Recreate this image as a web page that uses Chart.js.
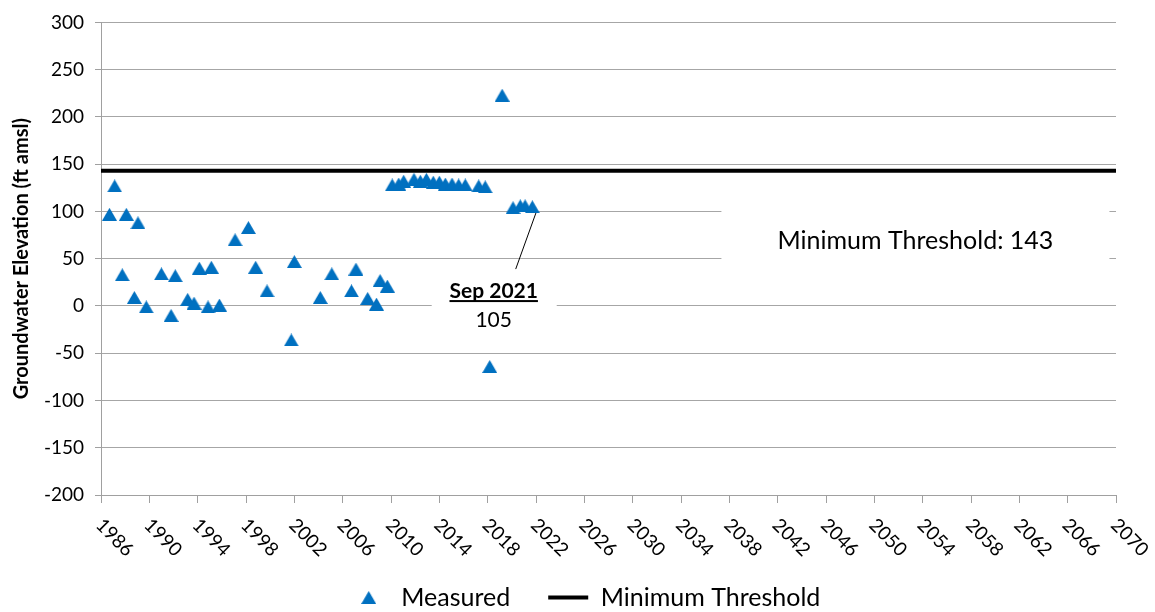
<!DOCTYPE html>
<html>
<head>
<meta charset="utf-8">
<script src="https://cdn.jsdelivr.net/npm/chart.js@4.4.0/dist/chart.umd.min.js"></script>
<style>
  html, body { margin: 0; padding: 0; background: #fff; }
</style>
</head>
<body>
<canvas id="myChart" width="1155" height="612"></canvas>
<script>
const measuredDates = [
  1986.7, 1987.13, 1987.76, 1988.1, 1988.76, 1989.06, 1989.75,
  1991.0, 1991.8, 1992.15, 1993.17, 1993.7, 1994.14, 1994.86, 1995.13, 1995.8,
  1997.1, 1998.2, 1998.8, 1999.74, 2001.75, 2002.0,
  2004.15, 2005.1, 2006.73, 2007.1, 2008.07, 2008.8, 2009.1, 2009.7,
  2010.1, 2010.64, 2011.05, 2011.9, 2012.43, 2012.93, 2013.5, 2014.0,
  2014.5, 2015.05, 2015.6, 2016.15, 2017.26, 2017.8,
  2018.17, 2019.2, 2020.1, 2020.7, 2021.1, 2021.7
];
const measuredValues = [
  97, 127, 33, 97, 9, 88, -1,
  34, -10, 32, 7, 3, 40, -1, 41, 1,
  70, 83, 41, 16, -36, 47,
  9, 34, 16, 39, 8, 2, 27, 21,
  128, 129, 132, 134, 132, 134, 131, 131,
  129, 129, 128, 128, 127, 126,
  -64, 223, 104, 106, 106, 105
];
const thresholdValue = 143;
const lastLabel = "Sep 2021";

const xMin = 1986, xMax = 2070, xStep = 4;
const yMin = -200, yMax = 300, yStep = 25;

const FONT = "Lato";
const BLUE = "#0070C0";

function makeTriangle(w, h, color) {
  const c = document.createElement("canvas");
  c.width = w; c.height = h;
  const g = c.getContext("2d");
  g.fillStyle = color;
  g.beginPath();
  g.moveTo(w / 2, 0);
  g.lineTo(w, h);
  g.lineTo(0, h);
  g.closePath();
  g.fill();
  return c;
}
const triangle = makeTriangle(15, 13, BLUE);

// x labels go down to the right (clockwise), chart.js only rotates the other way
const xLabels = {
  id: "xLabels",
  afterDraw(chart) {
    const sc = chart.scales.x, ctx = chart.ctx;
    ctx.save();
    ctx.font = "19px " + FONT;
    ctx.fillStyle = "#000";
    ctx.textAlign = "left";
    ctx.textBaseline = "middle";
    sc.ticks.forEach(t => {
      const px = sc.getPixelForValue(t.value);
      ctx.save();
      ctx.translate(px - 2, sc.top + 27);
      ctx.rotate(Math.PI / 4);
      ctx.fillText(String(t.value), 0, 0);
      ctx.restore();
    });
    ctx.restore();
  }
};

// text boxes: threshold label and callout for the latest reading
const notes = {
  id: "notes",
  beforeDatasetsDraw(chart) {
    const sx = chart.scales.x, sy = chart.scales.y, ctx = chart.ctx;
    ctx.save();

    let cx = sx.getPixelForValue(2053.4), cy = sy.getPixelForValue(68.6);
    ctx.fillStyle = "#fff";
    ctx.fillRect(cx - 194, cy - 35, 388, 62);
    ctx.fillStyle = "#000";
    ctx.font = "25px " + FONT;
    ctx.textAlign = "center";
    ctx.textBaseline = "middle";
    ctx.fillText("Minimum Threshold: " + thresholdValue, cx, cy);

    const last = measuredValues.length - 1;
    const px = sx.getPixelForValue(measuredDates[last]);
    const py = sy.getPixelForValue(measuredValues[last]);
    cx = sx.getPixelForValue(2018.5);
    cy = sy.getPixelForValue(2);
    ctx.fillStyle = "#fff";
    ctx.fillRect(cx - 62, cy - 37, 125, 74);

    ctx.strokeStyle = "#000";
    ctx.lineWidth = 1;
    ctx.beginPath();
    ctx.moveTo(cx + 22, cy - 35);
    ctx.lineTo(px + 4, py + 5);
    ctx.stroke();

    ctx.fillStyle = "#000";
    ctx.font = "bold 21px " + FONT;
    ctx.fillText(lastLabel, cx, cy - 13);
    const w = ctx.measureText(lastLabel).width;
    ctx.fillRect(cx - w / 2, cy - 4, w, 2);
    ctx.font = "21px " + FONT;
    ctx.fillText(String(measuredValues[last]), cx, cy + 16);
    ctx.restore();
  }
};

const points = measuredDates.map((d, i) => ({x: d, y: measuredValues[i]}));
const thresholdLine = [{x: xMin, y: thresholdValue}, {x: xMax, y: thresholdValue}];

new Chart("myChart", {
  type: "scatter",
  data: {
    datasets: [{
      label: "Measured",
      data: points,
      pointStyle: triangle,
      pointRadius: 7,
      showLine: false
    }, {
      type: "line",
      label: "Minimum Threshold",
      data: thresholdLine,
      borderColor: "#000",
      borderWidth: 4,
      pointRadius: 0,
      pointStyle: "line",
      pointBorderWidth: 4,
      pointBorderColor: "#000"
    }]
  },
  options: {
    responsive: false,
    animation: false,
    layout: {padding: {left: 14, right: 0, top: 20, bottom: -8}},
    plugins: {
      legend: {
        position: "bottom",
        labels: {
          usePointStyle: true,
          pointStyleWidth: 40,
          boxHeight: 12,
          padding: 38,
          color: "#000",
          font: {family: FONT, size: 25}
        }
      },
      tooltip: {enabled: false}
    },
    scales: {
      x: {
        type: "linear",
        min: xMin,
        max: xMax,
        ticks: {display: false, stepSize: xStep, autoSkip: false},
        grid: {drawOnChartArea: false, tickLength: 8, color: "#A0A0A0"},
        border: {color: "#A0A0A0"},
        afterFit: s => { s.height = 52; }
      },
      y: {
        min: yMin,
        max: yMax,
        ticks: {
          stepSize: yStep,
          color: "#000",
          padding: 11,
          font: {family: FONT, size: 19},
          callback: v => (v % 50 === 0 ? v : "")
        },
        grid: {
          tickLength: 6,
          color: c => (c.tick && c.tick.value % 50 === 0 ? "#A6A6A6" : "#D4D4D4"),
          tickColor: c => (c.tick && c.tick.value % 50 === 0 ? "#A0A0A0" : "rgba(0,0,0,0)")
        },
        border: {color: "#A0A0A0"},
        title: {
          display: true,
          text: "Groundwater Elevation (ft amsl)",
          color: "#000",
          font: {family: FONT, size: 20, weight: "bold"},
          padding: {top: -4, bottom: 0}
        },
        afterFit: s => { s.width = 87; }
      },
      // empty right margin so the legend centres like the original
      yRight: {
        position: "right",
        ticks: {display: false},
        grid: {display: false},
        border: {display: false},
        afterFit: s => { s.width = 39; }
      }
    }
  },
  plugins: [notes, xLabels]
});
</script>
</body>
</html>
